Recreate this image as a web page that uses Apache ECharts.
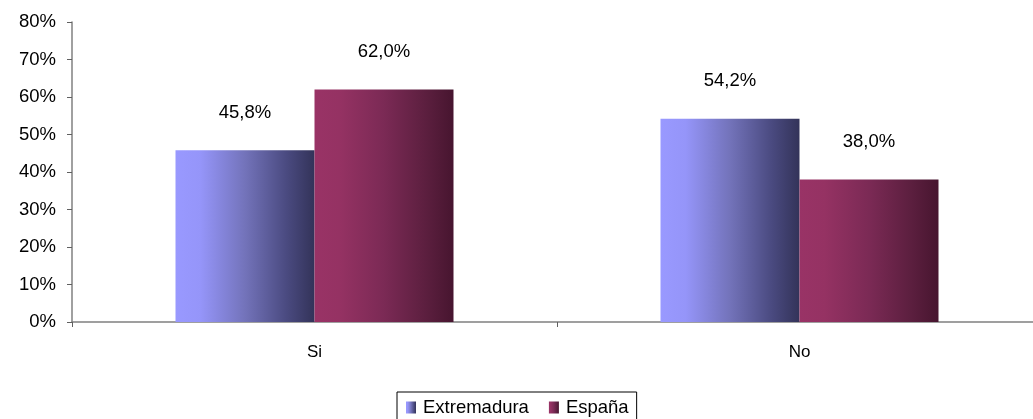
<!DOCTYPE html>
<html>
<head>
<meta charset="utf-8">
<script src="https://cdn.jsdelivr.net/npm/echarts@6/dist/echarts.min.js"></script>
<style>html,body{margin:0;padding:0;background:#fff;overflow:hidden;width:1033px;height:419px}#c{width:1042px;height:419px}</style>
</head>
<body>
<div id="c"></div>
<script>
const categories = ['Si', 'No'];
const extremadura = [45.8, 54.2];
const espana = [62.0, 38.0];
const yTicks = [0, 10, 20, 30, 40, 50, 60, 70, 80];

const FONT = '"Liberation Sans", Arial, sans-serif';
function grad(stops) {
  return new echarts.graphic.LinearGradient(0, 0, 1, 0, stops.map(s => ({offset: s[0], color: s[1]})));
}
const gExt = grad([[0, '#9999ff'], [0.18, '#9595f9'], [0.5, '#7373ba'], [0.8, '#4a4a80'], [1, '#333359']]);
const gEsp = grad([[0, '#993366'], [0.18, '#953263'], [0.5, '#7b2a55'], [0.8, '#5c1f3f'], [1, '#47152f']]);
const fmt = p => p.value.toFixed(1).replace('.', ',') + '%';

const chart = echarts.init(document.getElementById('c'), null, {renderer: 'canvas'});
chart.setOption({
  animation: false,
  backgroundColor: '#fff',
  grid: {left: 72, top: 22, right: 0, bottom: 97, containLabel: false},
  legend: {
    left: 397, top: 392,
    itemWidth: 10, itemHeight: 12, itemGap: 20,
    padding: [6, 8, 6, 9],
    borderColor: '#000', borderWidth: 1,
    textStyle: {fontFamily: FONT, fontSize: 18.5, color: '#000', padding: [0, 0, 0, 2]},
    data: [{name: 'Extremadura', icon: 'rect'}, {name: 'España', icon: 'rect'}]
  },
  xAxis: {
    type: 'category', data: categories,
    axisLine: {lineStyle: {color: '#808080', width: 1.5}},
    axisTick: {show: true, length: 5, lineStyle: {color: '#606060'}},
    axisLabel: {fontFamily: FONT, fontSize: 17, color: '#000', margin: 22}
  },
  yAxis: {
    type: 'value', min: yTicks[0], max: yTicks[yTicks.length - 1], interval: 10,
    axisLine: {show: true, lineStyle: {color: '#808080', width: 1.5}},
    axisTick: {show: true, length: 5, lineStyle: {color: '#606060'}},
    splitLine: {show: false},
    axisLabel: {fontFamily: FONT, fontSize: 18.5, color: '#000', margin: 16, formatter: '{value}%'}
  },
  series: [
    {name: 'Extremadura', type: 'bar', data: extremadura, barWidth: 139, barGap: '0%',
     itemStyle: {color: gExt},
     label: {show: true, position: 'top', distance: 28, fontFamily: FONT, fontSize: 18.5, color: '#000', formatter: fmt}},
    {name: 'España', type: 'bar', data: espana, barWidth: 139, barGap: '0%',
     itemStyle: {color: gEsp},
     label: {show: true, position: 'top', distance: 28, fontFamily: FONT, fontSize: 18.5, color: '#000', formatter: fmt}}
  ]
});
</script>
</body>
</html>
